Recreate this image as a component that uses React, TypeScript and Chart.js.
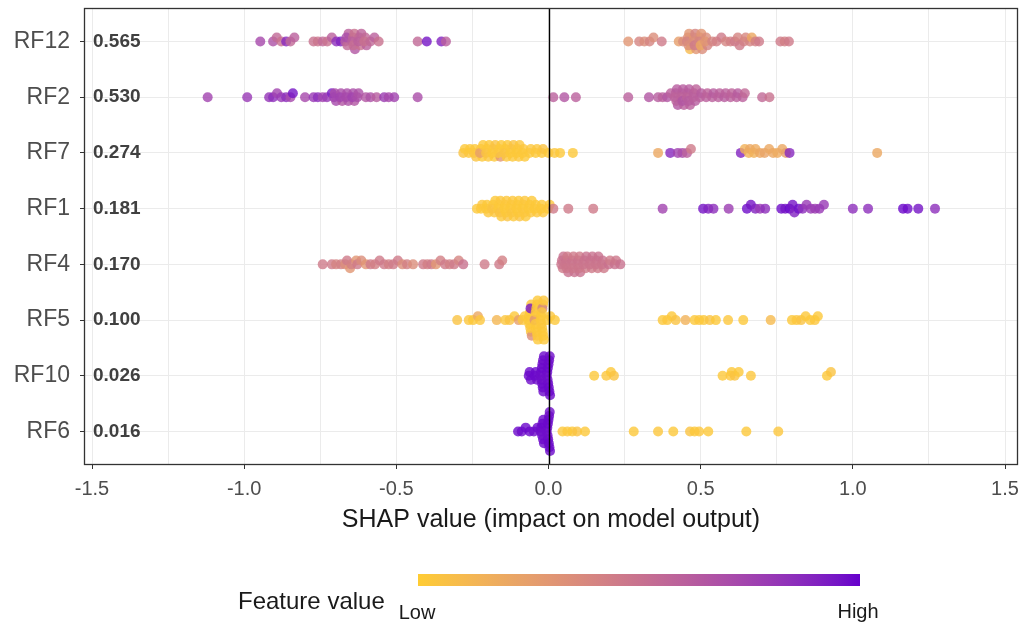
import React, { useEffect, useRef } from "react";
import { Chart, registerables } from "chart.js";

Chart.register(...registerables);

// ---------------- data ----------------
const FEATURES = ["RF12", "RF2", "RF7", "RF1", "RF4", "RF5", "RF10", "RF6"];
const MEAN_ABS_SHAP = ["0.565", "0.530", "0.274", "0.181", "0.170", "0.100", "0.026", "0.016"];
const X_MAJOR_TICKS = [-1.5, -1.0, -0.5, 0.0, 0.5, 1.0, 1.5];
const X_MINOR_TICKS = [-1.25, -0.75, -0.25, 0.25, 0.75, 1.25];
const X_TITLE = "SHAP value (impact on model output)";
const LEGEND_TITLE = "Feature value";
const LEGEND_LOW = "Low";
const LEGEND_HIGH = "High";
const LOW_COLOR = "#FFCC33";
const HIGH_COLOR = "#6600CC";

// [shap value, normalised feature value 0..1]
const RF12_POINTS: [number, number][] = [
  [-0.947, 0.72],
  [-0.905, 0.68], [-0.893, 0.55], [-0.878, 0.5], [-0.862, 0.88], [-0.848, 0.55], [-0.835, 0.6],
  [-0.772, 0.5], [-0.758, 0.48], [-0.742, 0.55], [-0.727, 0.5], [-0.712, 0.6],
  [-0.697, 0.85], [-0.683, 0.9], [-0.668, 0.62],
  [-0.661, 0.55], [-0.657, 0.6], [-0.664, 0.7],
  [-0.642, 0.55], [-0.638, 0.5], [-0.645, 0.6], [-0.636, 0.65], [-0.641, 0.52],
  [-0.622, 0.55], [-0.618, 0.5], [-0.625, 0.6], [-0.615, 0.58],
  [-0.602, 0.55], [-0.598, 0.6], [-0.605, 0.5],
  [-0.585, 0.55], [-0.572, 0.6], [-0.558, 0.5],
  [-0.43, 0.55], [-0.4, 0.95], [-0.352, 0.9], [-0.337, 0.6],
  [0.262, 0.3], [0.298, 0.4], [0.315, 0.35], [0.332, 0.4], [0.345, 0.35], [0.372, 0.45],
  [0.428, 0.25], [0.442, 0.35],
  [0.458, 0.35], [0.462, 0.3], [0.455, 0.4], [0.465, 0.1], [0.46, 0.35],
  [0.478, 0.3], [0.482, 0.4], [0.476, 0.35], [0.485, 0.3], [0.48, 0.45],
  [0.498, 0.35], [0.502, 0.3], [0.495, 0.4], [0.505, 0.35], [0.5, 0.2],
  [0.518, 0.35], [0.522, 0.4], [0.515, 0.3],
  [0.538, 0.4], [0.552, 0.42], [0.568, 0.45], [0.583, 0.4], [0.598, 0.42], [0.612, 0.45],
  [0.622, 0.4], [0.628, 0.45], [0.642, 0.42], [0.648, 0.38], [0.662, 0.4], [0.668, 0.2],
  [0.68, 0.42], [0.692, 0.45],
  [0.762, 0.45], [0.776, 0.42], [0.79, 0.45],
];

const RF2_POINTS: [number, number][] = [
  [-1.12, 0.75], [-0.99, 0.8],
  [-0.918, 0.82], [-0.905, 0.85], [-0.892, 0.75], [-0.878, 0.8], [-0.862, 0.85], [-0.848, 0.72], [-0.84, 0.95],
  [-0.8, 0.72],
  [-0.772, 0.8], [-0.758, 0.85], [-0.742, 0.75], [-0.728, 0.8], [-0.712, 0.92],
  [-0.702, 0.7], [-0.698, 0.72], [-0.705, 0.75],
  [-0.682, 0.7], [-0.678, 0.65], [-0.685, 0.75],
  [-0.662, 0.7], [-0.658, 0.68], [-0.665, 0.72],
  [-0.642, 0.7], [-0.638, 0.65], [-0.645, 0.75],
  [-0.628, 0.7], [-0.624, 0.68],
  [-0.6, 0.65], [-0.585, 0.68], [-0.565, 0.62],
  [-0.54, 0.78], [-0.525, 0.72], [-0.507, 0.75],
  [-0.43, 0.7],
  [0.016, 0.6], [0.052, 0.65], [0.09, 0.6],
  [0.262, 0.6], [0.33, 0.65], [0.36, 0.62], [0.375, 0.6], [0.39, 0.65], [0.402, 0.6],
  [0.418, 0.6], [0.422, 0.62], [0.415, 0.58], [0.425, 0.65], [0.42, 0.6],
  [0.438, 0.6], [0.442, 0.62], [0.436, 0.58], [0.445, 0.6], [0.44, 0.65],
  [0.458, 0.6], [0.462, 0.62], [0.455, 0.58], [0.465, 0.6], [0.46, 0.62],
  [0.478, 0.6], [0.482, 0.62], [0.476, 0.6], [0.485, 0.58],
  [0.498, 0.6], [0.502, 0.62], [0.518, 0.6], [0.522, 0.58], [0.538, 0.6], [0.542, 0.62],
  [0.558, 0.6], [0.562, 0.6], [0.578, 0.62], [0.582, 0.6], [0.598, 0.6], [0.602, 0.58],
  [0.618, 0.6], [0.622, 0.62], [0.638, 0.6], [0.645, 0.55],
  [0.702, 0.55], [0.726, 0.5],
];

const RF7_POINTS: [number, number][] = [
  [-0.28, 0.05], [-0.275, 0.02],
  [-0.262, 0.03], [-0.258, 0.02],
  [-0.242, 0.02], [-0.238, 0.05], [-0.245, 0.03],
  [-0.222, 0.03], [-0.218, 0.02], [-0.225, 0.25], [-0.215, 0.02],
  [-0.202, 0.02], [-0.198, 0.03], [-0.205, 0.05], [-0.195, 0.02],
  [-0.182, 0.03], [-0.178, 0.02], [-0.185, 0.02], [-0.175, 0.05],
  [-0.162, 0.02], [-0.158, 0.3], [-0.165, 0.03], [-0.155, 0.02],
  [-0.142, 0.02], [-0.138, 0.03], [-0.145, 0.05], [-0.135, 0.02],
  [-0.122, 0.03], [-0.118, 0.02], [-0.125, 0.02], [-0.115, 0.05],
  [-0.102, 0.02], [-0.098, 0.03], [-0.105, 0.02], [-0.095, 0.03],
  [-0.082, 0.03], [-0.078, 0.02], [-0.085, 0.02],
  [-0.062, 0.02], [-0.058, 0.03],
  [-0.042, 0.02], [-0.038, 0.03],
  [-0.022, 0.02], [-0.018, 0.05],
  [0.0, 0.02], [0.02, 0.03], [0.038, 0.02], [0.08, 0.02],
  [0.36, 0.2], [0.4, 0.88], [0.425, 0.75], [0.44, 0.7], [0.455, 0.6], [0.468, 0.45],
  [0.632, 0.9], [0.645, 0.15], [0.658, 0.15], [0.662, 0.2], [0.675, 0.15], [0.68, 0.18],
  [0.695, 0.2], [0.71, 0.22], [0.725, 0.2], [0.738, 0.2], [0.752, 0.18], [0.768, 0.2],
  [0.78, 0.25], [0.792, 0.88],
  [1.08, 0.2],
];

const RF1_POINTS: [number, number][] = [
  [-0.235, 0.02],
  [-0.222, 0.02], [-0.218, 0.03],
  [-0.202, 0.02], [-0.198, 0.03], [-0.205, 0.02],
  [-0.182, 0.02], [-0.178, 0.03], [-0.185, 0.05], [-0.175, 0.02],
  [-0.162, 0.02], [-0.158, 0.03], [-0.165, 0.02], [-0.155, 0.02], [-0.16, 0.05],
  [-0.142, 0.02], [-0.138, 0.03], [-0.145, 0.02], [-0.135, 0.05], [-0.14, 0.02],
  [-0.122, 0.02], [-0.118, 0.03], [-0.125, 0.02], [-0.115, 0.02], [-0.12, 0.04],
  [-0.102, 0.03], [-0.098, 0.02], [-0.105, 0.02], [-0.095, 0.05], [-0.1, 0.02],
  [-0.082, 0.02], [-0.078, 0.03], [-0.085, 0.02], [-0.075, 0.02], [-0.08, 0.03],
  [-0.062, 0.02], [-0.058, 0.03], [-0.065, 0.02], [-0.055, 0.02],
  [-0.042, 0.02], [-0.038, 0.03], [-0.045, 0.02],
  [-0.022, 0.02], [-0.018, 0.03], [-0.025, 0.02],
  [-0.002, 0.02], [0.004, 0.03],
  [0.016, 0.45], [0.065, 0.45], [0.147, 0.45], [0.375, 0.75],
  [0.508, 0.95], [0.525, 0.9], [0.542, 0.85], [0.592, 0.78],
  [0.652, 0.97], [0.665, 0.95], [0.68, 0.9], [0.695, 0.8], [0.712, 0.85],
  [0.765, 0.97], [0.778, 0.95], [0.792, 0.98], [0.802, 0.95], [0.808, 0.9], [0.822, 0.97],
  [0.835, 0.85], [0.848, 0.8], [0.862, 0.8], [0.876, 0.78], [0.89, 0.8], [0.905, 0.8],
  [1.0, 0.85], [1.05, 0.85], [1.165, 0.98], [1.18, 0.97], [1.215, 0.95], [1.27, 0.85],
];

const RF4_POINTS: [number, number][] = [
  [-0.742, 0.45], [-0.712, 0.45], [-0.698, 0.4], [-0.682, 0.42], [-0.668, 0.35], [-0.662, 0.45],
  [-0.652, 0.3], [-0.648, 0.42], [-0.632, 0.3], [-0.628, 0.45], [-0.615, 0.35], [-0.6, 0.3],
  [-0.585, 0.45], [-0.57, 0.42], [-0.555, 0.45], [-0.54, 0.45], [-0.525, 0.42], [-0.51, 0.45],
  [-0.495, 0.45], [-0.48, 0.35], [-0.465, 0.42], [-0.445, 0.35],
  [-0.412, 0.45], [-0.398, 0.42], [-0.385, 0.45], [-0.37, 0.3], [-0.355, 0.42], [-0.34, 0.45],
  [-0.325, 0.42], [-0.31, 0.45], [-0.295, 0.4], [-0.28, 0.5],
  [-0.21, 0.45], [-0.162, 0.45], [-0.152, 0.42],
  [0.044, 0.5], [0.047, 0.45], [0.049, 0.5], [0.042, 0.48],
  [0.058, 0.5], [0.062, 0.45], [0.055, 0.48], [0.065, 0.5], [0.06, 0.47],
  [0.078, 0.5], [0.082, 0.45], [0.075, 0.48], [0.085, 0.5], [0.08, 0.47],
  [0.098, 0.5], [0.102, 0.45], [0.096, 0.48], [0.104, 0.5], [0.1, 0.47],
  [0.118, 0.5], [0.122, 0.45], [0.115, 0.48], [0.124, 0.5],
  [0.138, 0.5], [0.142, 0.45], [0.136, 0.48], [0.144, 0.5],
  [0.158, 0.5], [0.162, 0.45], [0.156, 0.48], [0.164, 0.5],
  [0.178, 0.5], [0.182, 0.45], [0.176, 0.48],
  [0.198, 0.5], [0.202, 0.45],
  [0.218, 0.5], [0.222, 0.47],
  [0.236, 0.5],
];

const RF5_POINTS: [number, number][] = [
  [-0.3, 0.05], [-0.262, 0.03], [-0.248, 0.02], [-0.232, 0.2], [-0.225, 0.03], [-0.17, 0.12],
  [-0.142, 0.03], [-0.128, 0.05], [-0.112, 0.02], [-0.098, 0.25], [-0.085, 0.03], [-0.078, 0.02],
  [-0.061, 0.02], [-0.058, 0.03], [-0.064, 0.02], [-0.055, 0.35], [-0.066, 0.02], [-0.06, 0.03],
  [-0.057, 0.02], [-0.063, 0.02], [-0.059, 0.95],
  [-0.041, 0.02], [-0.038, 0.03], [-0.044, 0.02], [-0.035, 0.02], [-0.046, 0.3], [-0.04, 0.02],
  [-0.037, 0.03], [-0.043, 0.02], [-0.039, 0.02], [-0.042, 0.03], [-0.036, 0.02],
  [-0.021, 0.02], [-0.018, 0.03], [-0.024, 0.02], [-0.015, 0.02], [-0.026, 0.02], [-0.02, 0.4],
  [-0.017, 0.02], [-0.023, 0.03], [-0.019, 0.02], [-0.022, 0.02], [-0.016, 0.03],
  [-0.004, 0.02], [0.006, 0.03], [0.021, 0.02],
  [0.375, 0.02], [0.39, 0.03], [0.405, 0.02], [0.418, 0.05], [0.45, 0.15],
  [0.48, 0.02], [0.495, 0.03], [0.51, 0.02], [0.53, 0.05], [0.55, 0.02],
  [0.59, 0.03], [0.64, 0.02], [0.73, 0.1],
  [0.8, 0.02], [0.815, 0.03], [0.83, 0.05], [0.845, 0.02], [0.86, 0.02], [0.875, 0.03], [0.885, 0.02],
];

const RF10_POINTS: [number, number][] = [
  [-0.062, 0.98], [-0.058, 0.97], [-0.065, 0.98],
  [-0.042, 0.98], [-0.038, 0.97], [-0.045, 0.98],
  [-0.021, 0.98], [-0.018, 0.97], [-0.024, 0.98], [-0.015, 0.98], [-0.026, 0.97],
  [-0.02, 0.98], [-0.017, 0.98], [-0.023, 0.97], [-0.019, 0.98], [-0.022, 0.98],
  [-0.001, 0.98], [0.002, 0.97], [-0.004, 0.98], [0.005, 0.98], [-0.006, 0.97], [0.0, 0.98],
  [0.003, 0.98], [-0.003, 0.97], [0.001, 0.98], [-0.002, 0.98], [0.004, 0.97],
  [0.15, 0.02], [0.19, 0.03], [0.205, 0.02], [0.215, 0.05],
  [0.572, 0.02], [0.598, 0.03], [0.602, 0.02], [0.612, 0.05], [0.625, 0.02], [0.665, 0.03],
  [0.915, 0.02], [0.928, 0.05],
];

const RF6_POINTS: [number, number][] = [
  [-0.1, 0.98], [-0.088, 0.97], [-0.075, 0.98], [-0.062, 0.98], [-0.048, 0.97], [-0.036, 0.98],
  [-0.021, 0.98], [-0.018, 0.97], [-0.024, 0.98], [-0.015, 0.98], [-0.026, 0.97], [-0.02, 0.98], [-0.017, 0.98],
  [-0.001, 0.98], [0.002, 0.97], [-0.004, 0.98], [0.005, 0.98], [-0.006, 0.97], [0.0, 0.98],
  [0.003, 0.98], [-0.003, 0.97], [0.001, 0.98], [-0.002, 0.98], [0.004, 0.97],
  [0.046, 0.02], [0.062, 0.03], [0.078, 0.02], [0.094, 0.05], [0.12, 0.02],
  [0.28, 0.02], [0.36, 0.03], [0.41, 0.02], [0.465, 0.05], [0.48, 0.02], [0.495, 0.03],
  [0.525, 0.02], [0.65, 0.02], [0.755, 0.03],
];

const FEATURE_POINTS: [number, number][][] = [
  RF12_POINTS, RF2_POINTS, RF7_POINTS, RF1_POINTS, RF4_POINTS, RF5_POINTS, RF10_POINTS, RF6_POINTS,
];

// ---------------- colour helpers (Lab interpolation, like ggplot) ----------------
const FONT = "'Liberation Sans', Arial, Helvetica, sans-serif";
const WX = 0.95047, WY = 1.0, WZ = 1.08883;
function hexToRgb(h: string): number[] {
  const n = parseInt(h.slice(1), 16);
  return [(n >> 16) & 255, (n >> 8) & 255, n & 255];
}
function toLin(c: number) {
  c /= 255;
  return c <= 0.04045 ? c / 12.92 : Math.pow((c + 0.055) / 1.055, 2.4);
}
function fromLin(c: number) {
  const v = c <= 0.0031308 ? 12.92 * c : 1.055 * Math.pow(Math.max(c, 0), 1 / 2.4) - 0.055;
  return Math.round(Math.min(1, Math.max(0, v)) * 255);
}
function fLab(t: number) {
  return t > 216 / 24389 ? Math.cbrt(t) : ((24389 / 27) * t + 16) / 116;
}
function fInv(t: number) {
  const t3 = t * t * t;
  return t3 > 216 / 24389 ? t3 : (116 * t - 16) / (24389 / 27);
}
function rgbToLab(rgb: number[]) {
  const R = toLin(rgb[0]), G = toLin(rgb[1]), B = toLin(rgb[2]);
  const X = (0.4124 * R + 0.3576 * G + 0.1805 * B) / WX;
  const Y = (0.2126 * R + 0.7152 * G + 0.0722 * B) / WY;
  const Z = (0.0193 * R + 0.1192 * G + 0.9505 * B) / WZ;
  const fx = fLab(X), fy = fLab(Y), fz = fLab(Z);
  return [116 * fy - 16, 500 * (fx - fy), 200 * (fy - fz)];
}
function labToRgb(lab: number[]) {
  const fy = (lab[0] + 16) / 116, fx = fy + lab[1] / 500, fz = fy - lab[2] / 200;
  const X = fInv(fx) * WX, Y = fInv(fy) * WY, Z = fInv(fz) * WZ;
  const R = 3.2406 * X - 1.5372 * Y - 0.4986 * Z;
  const G = -0.9689 * X + 1.8758 * Y + 0.0415 * Z;
  const B = 0.0557 * X - 0.204 * Y + 1.057 * Z;
  return [fromLin(R), fromLin(G), fromLin(B)];
}
const LAB_LOW = rgbToLab(hexToRgb(LOW_COLOR));
const LAB_HIGH = rgbToLab(hexToRgb(HIGH_COLOR));
function featureRgb(f: number) {
  const t = Math.min(1, Math.max(0, f));
  return labToRgb([0, 1, 2].map((k) => LAB_LOW[k] + (LAB_HIGH[k] - LAB_LOW[k]) * t));
}
function featureColor(f: number, alpha: number) {
  const c = featureRgb(f);
  return `rgba(${c[0]},${c[1]},${c[2]},${alpha})`;
}

// ---------------- beeswarm layout (deterministic stacking within x bins) ----------------
const BIN = 0.02;
const STEP = 0.07;
function swarm(points: [number, number][], rowY: number) {
  const items = points.map((p, i) => ({ x: p[0], f: p[1], i, y: rowY }));
  const sorted = [...items].sort((a, b) => a.x - b.x || a.i - b.i);
  let lastBin: number | null = null;
  let layer = 0;
  for (const it of sorted) {
    const bin = Math.round(it.x / BIN);
    if (bin !== lastBin) layer = 0;
    it.y = rowY + Math.ceil(layer / 2) * (layer % 2 ? 1 : -1) * STEP;
    layer++;
    lastBin = bin;
  }
  return items;
}

const X_MIN = -1.5263;
const X_MAX = 1.5427;
const Y_MIN = 0.4;
const Y_MAX = 8.6;

export default function App() {
  const canvasRef = useRef<HTMLCanvasElement | null>(null);

  useEffect(() => {
    const canvas = canvasRef.current;
    if (!canvas) return;
    const n = FEATURES.length;

    const datasets = FEATURE_POINTS.map((pts, idx) => {
      const items = swarm(pts, n - idx);
      return {
        label: FEATURES[idx],
        data: items.map((it) => ({ x: it.x, y: it.y })),
        pointBackgroundColor: items.map((it) => featureColor(it.f, 0.8)),
        pointBorderWidth: 0,
        pointBorderColor: "rgba(0,0,0,0)",
        pointRadius: 5,
        pointHoverRadius: 5,
        showLine: false,
      };
    });

    const allXTicks = [...X_MAJOR_TICKS, ...X_MINOR_TICKS].sort((a, b) => a - b);
    const isMajor = (v: number) => X_MAJOR_TICKS.some((m) => Math.abs(m - v) < 1e-9);

    const decor = {
      id: "shapDecor",
      afterDatasetsDraw(chart: any) {
        const { ctx, chartArea, scales } = chart;
        ctx.save();
        // reference line at SHAP = 0 (drawn over the points)
        const x0 = Math.round(scales.x.getPixelForValue(0)) + 0.5;
        ctx.strokeStyle = "#000000";
        ctx.lineWidth = 1.4;
        ctx.beginPath();
        ctx.moveTo(x0, chartArea.top);
        ctx.lineTo(x0, chartArea.bottom);
        ctx.stroke();
        // mean |SHAP| labels
        ctx.fillStyle = "#404040";
        ctx.font = `bold 19px ${FONT}`;
        ctx.textAlign = "left";
        ctx.textBaseline = "middle";
        MEAN_ABS_SHAP.forEach((txt, i) => {
          ctx.fillText(txt, chartArea.left + 9, scales.y.getPixelForValue(n - i));
        });
        // panel border
        ctx.strokeStyle = "#333333";
        ctx.lineWidth = 1.3;
        ctx.strokeRect(chartArea.left + 0.5, chartArea.top + 0.5, chartArea.right - chartArea.left - 1, chartArea.bottom - chartArea.top - 1);
        ctx.restore();
      },
      afterDraw(chart: any) {
        const { ctx } = chart;
        ctx.save();
        const barL = 418, barR = 860, barT = 574, barH = 12;
        const grad = ctx.createLinearGradient(barL, 0, barR, 0);
        for (let k = 0; k <= 20; k++) {
          const t = k / 20;
          grad.addColorStop(t, featureColor(t, 1));
        }
        ctx.fillStyle = grad;
        ctx.fillRect(barL, barT, barR - barL, barH);
        ctx.fillStyle = "#1a1a1a";
        ctx.textBaseline = "alphabetic";
        ctx.font = `24px ${FONT}`;
        ctx.textAlign = "left";
        ctx.fillText(LEGEND_TITLE, 238, 609);
        ctx.font = `20px ${FONT}`;
        ctx.textAlign = "center";
        ctx.fillText(LEGEND_LOW, 417, 619);
        ctx.fillText(LEGEND_HIGH, 858, 618);
        ctx.restore();
      },
    };

    const chart = new Chart(canvas, {
      type: "scatter",
      data: { datasets: datasets as any },
      options: {
        responsive: false,
        maintainAspectRatio: false,
        animation: false,
        layout: { padding: { left: 0, right: 7, top: 8, bottom: 0 } },
        plugins: {
          legend: { display: false },
          tooltip: { enabled: false },
        },
        scales: {
          x: {
            type: "linear",
            min: X_MIN,
            max: X_MAX,
            afterBuildTicks: (s: any) => {
              s.ticks = allXTicks.map((v) => ({ value: v }));
            },
            afterFit: (s: any) => {
              s.height = 157;
              s.paddingLeft = 0;
              s.paddingRight = 0;
            },
            ticks: {
              autoSkip: false,
              maxRotation: 0,
              padding: 8,
              color: "#4D4D4D",
              font: { family: FONT, size: 20 },
              callback: (value: any) => (isMajor(Number(value)) ? Number(value).toFixed(1) : ""),
            },
            grid: {
              color: "#EBEBEB",
              lineWidth: 1,
              tickColor: (c: any) => (c.tick && isMajor(c.tick.value) ? "#333333" : "rgba(0,0,0,0)"),
              tickLength: 4,
              tickWidth: 1,
            },
            border: { display: false },
            title: {
              display: true,
              text: X_TITLE,
              color: "#1a1a1a",
              font: { family: FONT, size: 25 },
              padding: { top: 0, bottom: 87 },
            },
          },
          y: {
            type: "linear",
            min: Y_MIN,
            max: Y_MAX,
            afterBuildTicks: (s: any) => {
              s.ticks = FEATURES.map((_, i) => ({ value: i + 1 }));
            },
            afterFit: (s: any) => {
              s.width = 84;
              s.paddingTop = 0;
              s.paddingBottom = 0;
            },
            ticks: {
              autoSkip: false,
              padding: 10,
              color: "#4D4D4D",
              font: { family: FONT, size: 23 },
              callback: (value: any) => FEATURES[n - Number(value)] ?? "",
            },
            grid: {
              color: "#EBEBEB",
              lineWidth: 1,
              tickColor: "#333333",
              tickLength: 4,
              tickWidth: 1,
            },
            border: { display: false },
          },
        },
      },
      plugins: [decor],
    } as any);

    return () => {
      chart.destroy();
    };
  }, []);

  return (
    <div style={{ position: "absolute", left: 0, top: 0, width: 1025, height: 622, background: "#ffffff" }}>
      <canvas ref={canvasRef} width={1025} height={622} style={{ display: "block", width: 1025, height: 622 }} />
    </div>
  );
}
